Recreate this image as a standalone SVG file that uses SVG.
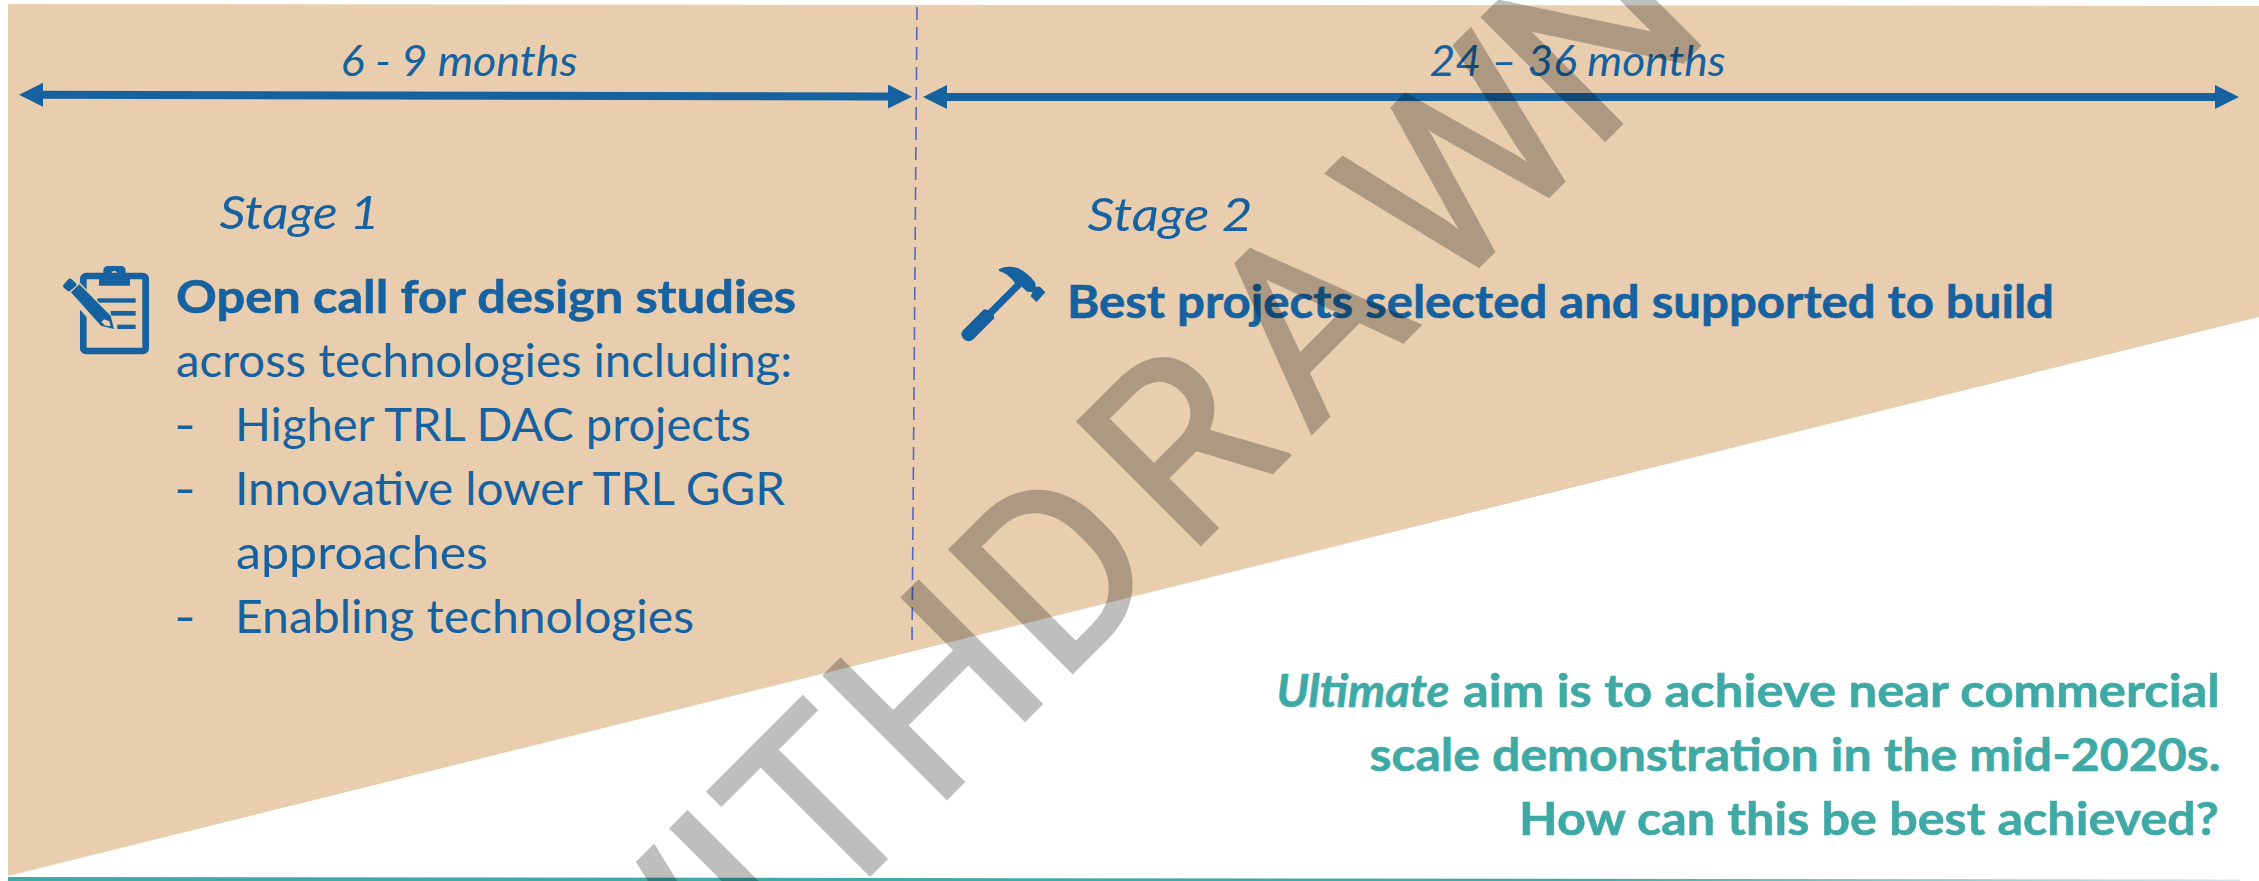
<svg xmlns="http://www.w3.org/2000/svg" width="2259" height="881" viewBox="0 0 2259 881">
<style>
text{font-family:"Lato","Noto Sans","Liberation Sans",sans-serif;fill:#16619f}
.lbl{font-size:43px;font-style:italic}
.stage{font-size:46px;font-style:italic}
.b{font-size:46px;font-weight:700;stroke:#16619f;stroke-width:.6}
.r{font-size:46px}
.aim{font-size:46px;font-weight:700;fill:#3fa9a5;stroke:#3fa9a5;stroke-width:.6}
.ic{fill:#16619f}
.conn{stroke:#16619f;stroke-width:8;fill:none;marker-start:url(#ah);marker-end:url(#ah)}
.wm{font-family:"Roboto","Liberation Sans",sans-serif;font-size:244px;fill:#000;stroke:#000;stroke-width:3;opacity:.25}
</style>
<defs>
<marker id="ah" markerUnits="userSpaceOnUse" markerWidth="24" markerHeight="24" refX="0" refY="12" orient="auto-start-reverse" viewBox="0 0 24 24"><path d="M0 0L24 12L0 24Z" fill="#16619f"/></marker>
<linearGradient id="tl" x1="0" x2="1" y1="0" y2="0"><stop offset="0" stop-color="#3fa9a5"/><stop offset=".7" stop-color="#3fa9a5"/><stop offset="1" stop-color="#3fa9a5" stop-opacity=".25"/></linearGradient>
</defs>
<g id="background">
<polygon points="8,4 2259,6 2259,317 8,876" fill="#e8cdae"/>
<polygon points="8,877 2240,879.5 2240,881 8,881" fill="url(#tl)"/>
</g>
<g id="divider"><line x1="917" y1="7" x2="912" y2="646" stroke="#5566c4" stroke-width="1.6" stroke-dasharray="13 7"/></g>
<g id="connectors">
<line class="conn" x1="43" y1="94.8" x2="888" y2="96.6"/>
<line class="conn" x1="947" y1="97" x2="2215" y2="97"/>
</g>
<g id="duration-1"><text class="lbl" x="340.5" y="75.5" textLength="237" lengthAdjust="spacingAndGlyphs">6 - 9 months</text></g>
<g id="duration-2"><text class="lbl" x="1429.5" y="75.5" textLength="296" lengthAdjust="spacingAndGlyphs">24 – 36 months</text></g>
<g id="stage-1">
<text class="stage" x="219.5" y="228.5" textLength="160" lengthAdjust="spacingAndGlyphs">Stage 1</text>
<g id="clipboard-icon" transform="translate(40 250) scale(.3333)">
<rect x="130" y="78" width="187" height="225" rx="8" fill="none" stroke="#16619f" stroke-width="20"/>
<path class="ic" d="M177 70h13v-8q0-14 14-14h39q14 0 14 14v8h13v37h-93zM223 62a9 9 0 1 0 .1 0z" fill-rule="evenodd"/>
<rect class="ic" x="172" y="145" width="115" height="13"/>
<rect class="ic" x="212" y="183" width="75" height="14"/>
<rect class="ic" x="232" y="224" width="55" height="13"/>
<path d="M110 88L225 208L235 250L175 240L75 130Z" fill="#e8cdae"/>
<path class="ic" d="M118 103L212 197L222 237L183 227L93 127ZM192 208L184 216L196 227L212 229L208 214Z" fill-rule="evenodd"/>
<path class="ic" d="M70 105L85 88Q90 83 95 88L108 100Q112 105 107 109L90 123Q86 126 82 122L70 112Q67 108 70 105Z"/>
</g>
<text class="b" x="176" y="312.5" textLength="620" lengthAdjust="spacingAndGlyphs">Open call for design studies</text>
<text class="r" x="176" y="376.5" textLength="616" lengthAdjust="spacingAndGlyphs">across technologies including:</text>
<text class="r" x="174" y="440.5" textLength="22" lengthAdjust="spacingAndGlyphs">-</text>
<text class="r" x="235" y="440.5" textLength="516" lengthAdjust="spacingAndGlyphs">Higher TRL DAC projects</text>
<text class="r" x="174" y="504.5" textLength="22" lengthAdjust="spacingAndGlyphs">-</text>
<text class="r" x="235" y="504.5" textLength="550" lengthAdjust="spacingAndGlyphs">Innovative lower TRL GGR</text>
<text class="r" x="236" y="568.5" textLength="252" lengthAdjust="spacingAndGlyphs">approaches</text>
<text class="r" x="174" y="632.5" textLength="22" lengthAdjust="spacingAndGlyphs">-</text>
<text class="r" x="235" y="632.5" textLength="459" lengthAdjust="spacingAndGlyphs">Enabling technologies</text>
</g>
<g id="stage-2">
<text class="stage" x="1087.5" y="230.5" textLength="165" lengthAdjust="spacingAndGlyphs">Stage 2</text>
<g id="hammer-icon" transform="translate(940 250) scale(.3333)">
<path class="ic" d="M177 57Q205 45 235 55Q265 70 285 97L287 110L300 110L316 127L290 156L272 139L278 126L262 125L245 110L241 114L161 194L163 205L100 268Q85 280 70 266Q58 252 70 240L132 178L145 180L225 100Q205 70 177 63Z"/>
</g>
<text class="b" x="1067" y="317.5" textLength="987" lengthAdjust="spacingAndGlyphs">Best projects selected and supported to build</text>
</g>
<g id="aim">
<text class="aim" y="706.5"><tspan font-style="italic" x="1276.5" textLength="173" lengthAdjust="spacingAndGlyphs">Ultimate</tspan> <tspan x="1463" textLength="757" lengthAdjust="spacingAndGlyphs">aim is to achieve near commercial</tspan></text>
<text class="aim" x="1369.5" y="770.5" textLength="851" lengthAdjust="spacingAndGlyphs">scale demonstration in the mid-2020s.</text>
<text class="aim" x="1519" y="834.5" textLength="700" lengthAdjust="spacingAndGlyphs">How can this be best achieved?</text>
</g>
<g id="watermark"><text class="wm" transform="rotate(-45)" y="1234" x="-347 -133 -65 85 263 444 618 808 1016">WITHDRAWN</text></g>
</svg>
